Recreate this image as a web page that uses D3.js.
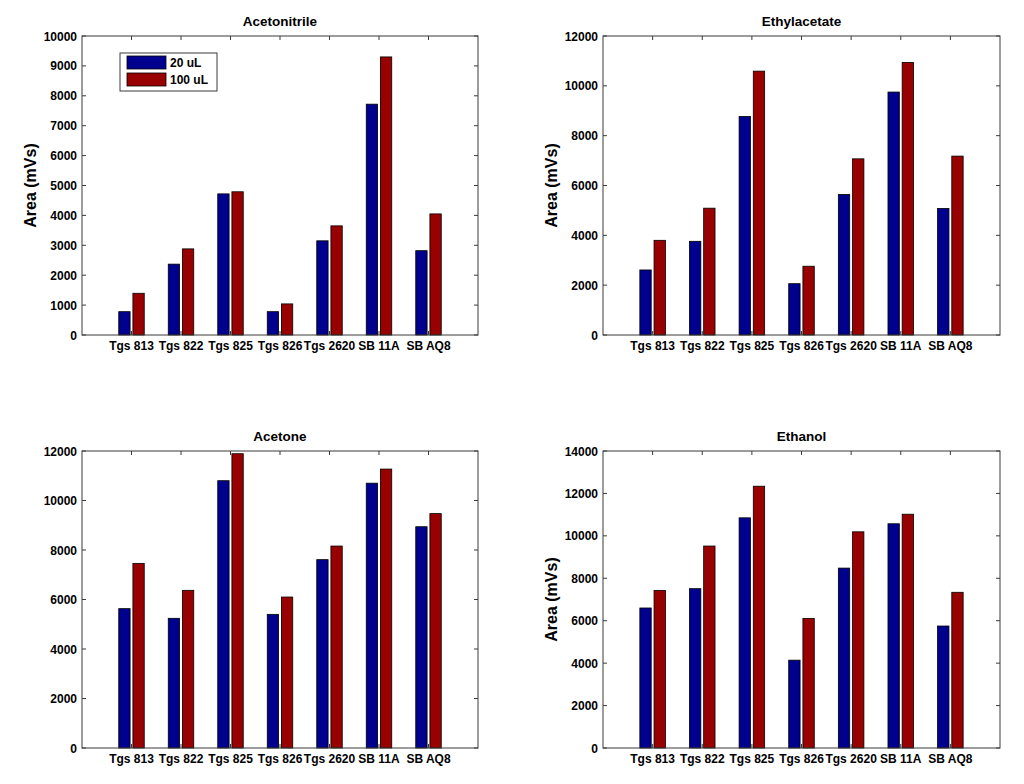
<!DOCTYPE html>
<html>
<head>
<meta charset="utf-8">
<script src="https://cdn.jsdelivr.net/npm/d3@7"></script>
<style>
  body { margin: 0; background: #fff; }
  text { font-family: "Liberation Sans", Arial, sans-serif; font-weight: bold; fill: #000; }
</style>
</head>
<body>
<svg id="fig" width="1024" height="784"></svg>
<script>
var sensors = ['Tgs 813', 'Tgs 822', 'Tgs 825', 'Tgs 826', 'Tgs 2620', 'SB 11A', 'SB AQ8']
var seriesNames = ['20 uL', '100 uL']

var acetonitrile20  = [780, 2370, 4720, 780, 3150, 7720, 2820]
var acetonitrile100 = [1395, 2880, 4790, 1040, 3650, 9300, 4050]
var ethylacetate20  = [2610, 3760, 8770, 2060, 5640, 9750, 5080]
var ethylacetate100 = [3800, 5090, 10590, 2760, 7070, 10940, 7180]
var acetone20  = [5630, 5240, 10800, 5400, 7610, 10700, 8940]
var acetone100 = [7460, 6370, 11890, 6100, 8160, 11270, 9470]
var ethanol20  = [6600, 7510, 10850, 4140, 8480, 10570, 5750]
var ethanol100 = [7430, 9520, 12340, 6110, 10190, 11020, 7340]

var svg = d3.select('#fig')
var colors = ['#00008f', '#990000']

function makePanel(title, v20, v100, yMax, yStep, box, showYLabel, showLegend) {
  var g = svg.append('g')
  var x = d3.scaleLinear().domain([0, sensors.length + 1]).range([box.left, box.right])
  var y = d3.scaleLinear().domain([0, yMax]).range([box.bottom, box.top])
  var ticks = d3.range(0, yMax + 1, yStep)
  var tickLen = 4

  // bars, grouped like matlab bar()
  var off = 0.143, bw = 0.229
  ;[v20, v100].forEach(function(vals, s) {
    g.selectAll('rect.s' + s).data(vals).enter().append('rect')
      .attr('x', function(d, i) { return x(i + 1 + (s ? off : -off) - bw / 2) })
      .attr('width', x(bw) - x(0))
      .attr('y', function(d) { return y(d) })
      .attr('height', function(d) { return y(0) - y(d) })
      .attr('fill', colors[s])
      .attr('stroke', '#000').attr('stroke-width', 0.8)
  })

  // box
  g.append('rect')
    .attr('x', box.left).attr('y', box.top)
    .attr('width', box.right - box.left).attr('height', box.bottom - box.top)
    .attr('fill', 'none').attr('stroke', '#3a3a3a').attr('stroke-width', 1)

  // y ticks both sides
  ticks.forEach(function(t) {
    g.append('line').attr('x1', box.left).attr('x2', box.left + tickLen)
      .attr('y1', y(t)).attr('y2', y(t)).attr('stroke', '#3a3a3a')
    g.append('line').attr('x1', box.right).attr('x2', box.right - tickLen)
      .attr('y1', y(t)).attr('y2', y(t)).attr('stroke', '#3a3a3a')
    g.append('text').attr('x', box.left - 5).attr('y', y(t) + 4.5)
      .attr('text-anchor', 'end').attr('font-size', 12).text(t)
  })

  // x ticks top and bottom
  sensors.forEach(function(name, i) {
    var px = x(i + 1)
    g.append('line').attr('x1', px).attr('x2', px)
      .attr('y1', box.bottom).attr('y2', box.bottom - tickLen).attr('stroke', '#3a3a3a')
    g.append('line').attr('x1', px).attr('x2', px)
      .attr('y1', box.top).attr('y2', box.top + tickLen).attr('stroke', '#3a3a3a')
    g.append('text').attr('x', px).attr('y', box.bottom + 15)
      .attr('text-anchor', 'middle').attr('font-size', 12).text(name)
  })

  g.append('text').attr('x', (box.left + box.right) / 2).attr('y', box.top - 10)
    .attr('text-anchor', 'middle').attr('font-size', 13.5).text(title)

  if (showYLabel) {
    g.append('text')
      .attr('transform', 'translate(' + (box.left - 46) + ',' + ((box.top + box.bottom) / 2) + ') rotate(-90)')
      .attr('text-anchor', 'middle').attr('font-size', 16).text('Area (mVs)')
  }

  if (showLegend) {
    var lg = g.append('g')
    lg.append('rect').attr('x', 120).attr('y', 53).attr('width', 97).attr('height', 38)
      .attr('fill', '#fff').attr('stroke', '#3a3a3a')
    seriesNames.forEach(function(n, s) {
      lg.append('rect').attr('x', 127).attr('y', 56 + s * 17).attr('width', 39).attr('height', 13)
        .attr('fill', colors[s]).attr('stroke', '#000').attr('stroke-width', 0.8)
      lg.append('text').attr('x', 170).attr('y', 67 + s * 17).attr('font-size', 12).text(n)
    })
  }
}

makePanel('Acetonitrile', acetonitrile20, acetonitrile100, 10000, 1000,
  {left: 82, right: 478, top: 36, bottom: 335}, true, true)
makePanel('Ethylacetate', ethylacetate20, ethylacetate100, 12000, 2000,
  {left: 603, right: 1000, top: 36, bottom: 335}, true, false)
makePanel('Acetone', acetone20, acetone100, 12000, 2000,
  {left: 82, right: 478, top: 451, bottom: 748}, false, false)
makePanel('Ethanol', ethanol20, ethanol100, 14000, 2000,
  {left: 603, right: 1000, top: 451, bottom: 748}, true, false)
</script>
</body>
</html>
